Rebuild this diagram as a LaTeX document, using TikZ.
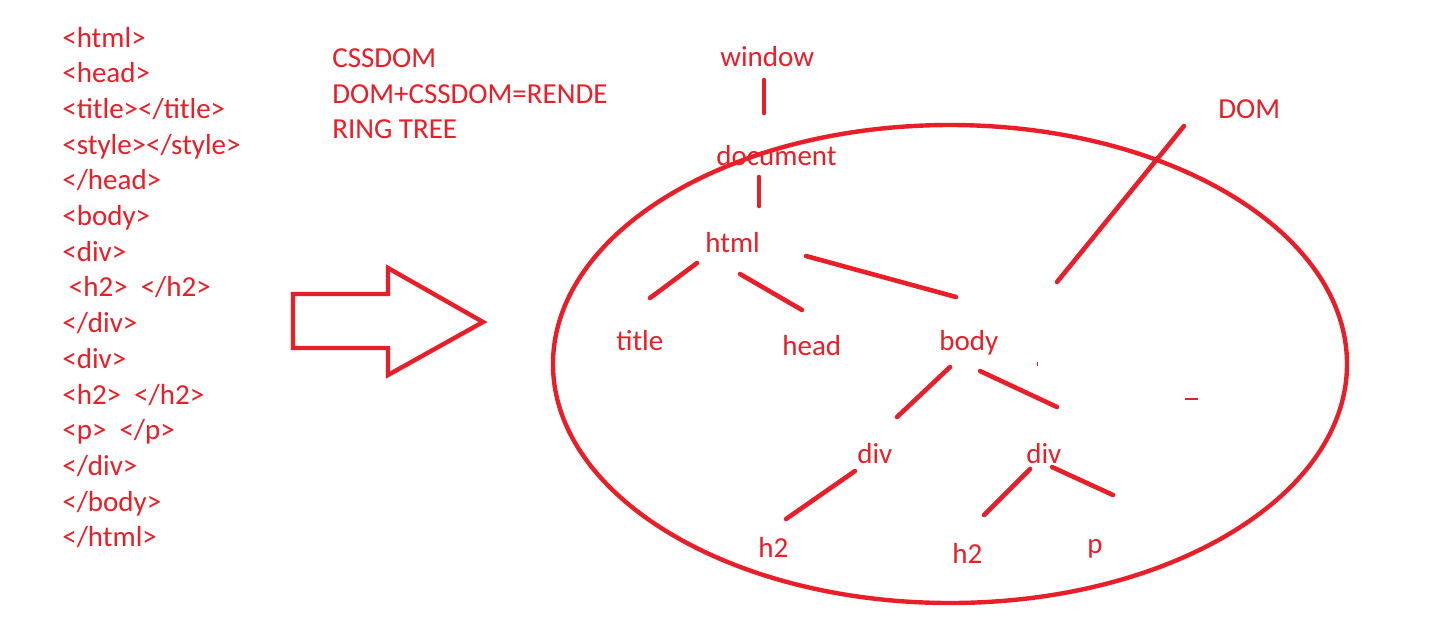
\documentclass[tikz,border=0pt]{standalone}
\usepackage{fontspec}
\setmainfont{Carlito}
\definecolor{pr}{RGB}{232,30,40}
\begin{document}
\begin{tikzpicture}[x=0.02cm,y=-0.02cm,
  lbl/.style={anchor=base west,inner sep=0pt,text=pr,font=\fontsize{16.5pt}{19pt}\selectfont},
  edge/.style={draw=pr,line width=2.6pt,line cap=round},
  outl/.style={draw=pr,line width=2.5pt}]
\useasboundingbox[fill=white] (0,0) rectangle (1443,633);
% left source listing
\foreach \t [count=\i] in {{<html>},{<head>},{<title></title>},{<style></style>},{</head>},{<body>},{<div>},{\ <h2>\ \ </h2>},{</div>},{<div>},{<h2>\ \ </h2>},{<p>\ \ </p>},{</div>},{</body>},{</html>}}
  \node[lbl] (src\i) at (62,{47+35.7*(\i-1)}) {\t};
% notes
\node[lbl] (n1) at (332,67) {CSSDOM};
\node[lbl] (n2) at (332,103) {DOM+CSSDOM=RENDE};
\node[lbl] (n3) at (332,138) {RING TREE};
% big arrow
\draw[outl,line join=miter] (293,294) -- (388,294) -- (388,268) -- (483,322) -- (388,375) -- (388,348) -- (293,348) -- cycle;
% ellipse
\draw[outl] (950,364) ellipse [x radius=397,y radius=239];
% tree labels
\node[lbl] (window) at (720,66) {window};
\node[lbl] (document) at (716,165) {document};
\node[lbl] (html) at (705,252) {html};
\node[lbl] (title) at (616,350) {title};
\node[lbl] (head) at (782,355) {head};
\node[lbl] (body) at (939,350) {body};
\node[lbl] (div1) at (857,463) {div};
\node[lbl] (div2) at (1026,463) {div};
\node[lbl] (h2a) at (758,557) {h2};
\node[lbl] (h2b) at (952,563) {h2};
\node[lbl] (p) at (1087,553) {p};
\node[lbl] (dom) at (1218,118) {DOM};
% connector ends
\coordinate (w1) at (764,80);   \coordinate (w2) at (764,113);
\coordinate (d1) at (759,177);  \coordinate (d2) at (759,206);
\coordinate (ht1) at (697,263); \coordinate (ht2) at (650,298);
\coordinate (hh1) at (740,274); \coordinate (hh2) at (802,310);
\coordinate (hb1) at (806,256); \coordinate (hb2) at (956,297);
\coordinate (bd1) at (950,367); \coordinate (bd2) at (897,417);
\coordinate (be1) at (980,371); \coordinate (be2) at (1057,407);
\coordinate (da1) at (855,471); \coordinate (da2) at (786,519);
\coordinate (db1) at (1030,469);\coordinate (db2) at (984,515);
\coordinate (dp1) at (1052,467);\coordinate (dp2) at (1113,495);
\coordinate (dm1) at (1184,126);\coordinate (dm2) at (1057,282);
\draw[edge] (w1) -- (w2);
\draw[edge] (d1) -- (d2);
\draw[edge] (ht1) -- (ht2);
\draw[edge] (hh1) -- (hh2);
\draw[edge] (hb1) -- (hb2);
\draw[edge] (bd1) -- (bd2);
\draw[edge] (be1) -- (be2);
\draw[edge] (da1) -- (da2);
\draw[edge] (db1) -- (db2);
\draw[edge] (dp1) -- (dp2);
\draw[edge] (dm1) -- (dm2);
% tiny stray marks
\coordinate (s1) at (1185,399); \coordinate (s2) at (1198,399);
\draw[draw=pr,line width=1pt] (s1) -- (s2);
\coordinate (t1) at (1037,362); \coordinate (t2) at (1037,366);
\draw[draw=pr,line width=0.5pt] (t1) -- (t2);
\end{tikzpicture}
\end{document}
